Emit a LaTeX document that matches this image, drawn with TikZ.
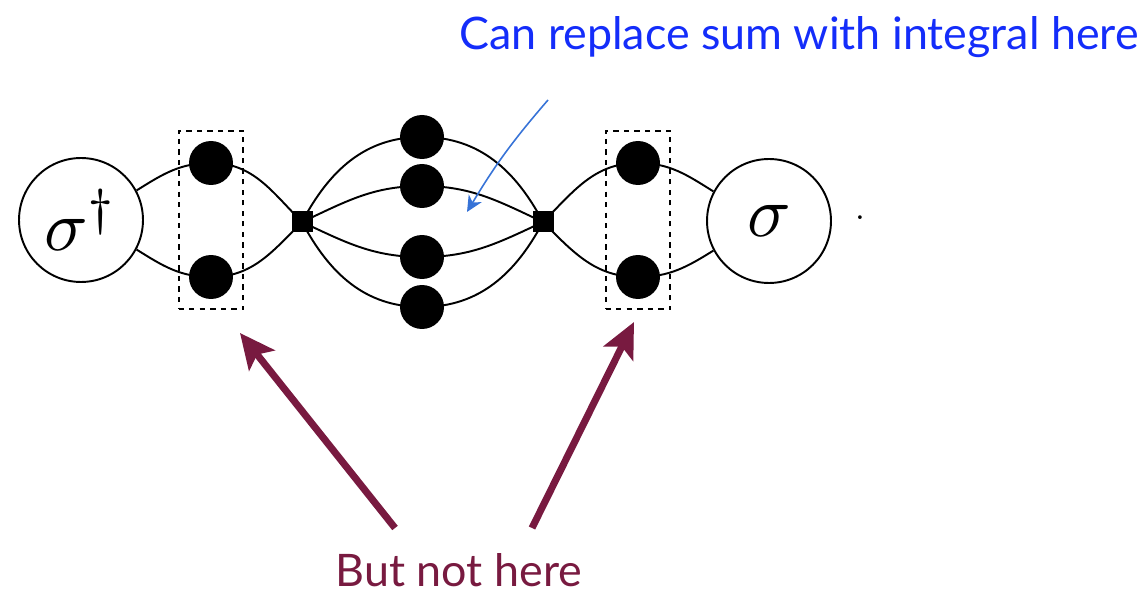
\documentclass[tikz,border=0pt]{standalone}
\usepackage{graphicx}
\usepackage{fontspec}
\setmainfont{Lato}
\usetikzlibrary{arrows.meta,fit}
\definecolor{kek}{RGB}{20,45,250}
\definecolor{vkek}{RGB}{55,115,215}
\definecolor{bordo}{RGB}{120,26,64}
\newcommand{\nagy}[1]{\scalebox{4.1}{$#1$}}
\tikzset{
  kor/.style={circle,draw,line width=1.1pt,minimum size=2.48cm,inner sep=0pt},
  pont/.style={circle,fill,minimum size=0.88cm,inner sep=0pt},
  kocka/.style={fill,minimum size=0.42cm,inner sep=0pt},
  keret/.style={draw,dash pattern=on 3pt off 3pt,line width=1pt,inner sep=0.2cm},
  vonal/.style={line width=1.1pt},
  knyil/.style={-{Stealth[length=3.2mm,width=3mm,inset=1mm]},vkek,line width=0.9pt},
  vnyil/.style={-{Stealth[length=7mm,width=6.5mm,inset=1.5mm]},bordo,line width=4pt},
  cimke/.style={font=\fontsize{25.5}{30}\selectfont,anchor=base},
}
\begin{document}
\begin{tikzpicture}[x=0.02cm,y=-0.02cm]
  \useasboundingbox (0,0) rectangle (1145,597);
  % korok es csucsok
  \node[kor] (sb) at (81,220) {\nagy{\sigma^{\dagger}}};
  \node[kor] (sj) at (769,221) {\nagy{\sigma}};
  \node[kocka] (kb) at (302,222) {};
  \node[kocka] (kj) at (543,222) {};
  \node[pont] (a1) at (211,163) {};
  \node[pont] (a2) at (211,277) {};
  \node[pont] (b1) at (638,163) {};
  \node[pont] (b2) at (638,277) {};
  \node[pont] (c1) at (422,137) {};
  \node[pont] (c2) at (422,186) {};
  \node[pont] (c3) at (422,257) {};
  \node[pont] (c4) at (422,307) {};
  \node (vp) at (860,218) {\scalebox{2}{$.$}};
  % vonalak
  \draw[vonal] (sb.28) to[out=32,in=180] (a1.center) to[out=0,in=135] (kb.center);
  \draw[vonal] (sb.-28) to[out=-32,in=180] (a2.center) to[out=0,in=-135] (kb.center);
  \draw[vonal] (kb.center) to[out=62,in=180] (c1.center) to[out=0,in=118] (kj.center);
  \draw[vonal] (kb.center) to[out=25,in=180] (c2.center) to[out=0,in=155] (kj.center);
  \draw[vonal] (kb.center) to[out=-25,in=180] (c3.center) to[out=0,in=-155] (kj.center);
  \draw[vonal] (kb.center) to[out=-62,in=180] (c4.center) to[out=0,in=-118] (kj.center);
  \draw[vonal] (kj.center) to[out=45,in=180] (b1.center) to[out=0,in=148] (sj.152);
  \draw[vonal] (kj.center) to[out=-45,in=180] (b2.center) to[out=0,in=-148] (sj.-152);
  % keretek
  \node[keret,fit=(a1)(a2)] (ba) {};
  \node[keret,fit=(b1)(b2)] (bj) {};
  % feliratok
  \node[cimke,text=kek] (fent) at (799,50) {Can replace sum with integral here};
  \node[cimke,text=bordo] (lent) at (459,586) {But not here};
  \coordinate (kf) at (548,100);
  \coordinate (kc) at (467,212);
  \coordinate (l1) at (395,528);
  \coordinate (l2) at (532,528);
  \coordinate (t1) at (240,333);
  \coordinate (t2) at (634,322);
  \draw[knyil] (kf) to[bend right=5] (kc);
  \draw[vnyil] (l1) -- (t1);
  \draw[vnyil] (l2) -- (t2);
\end{tikzpicture}
\end{document}
